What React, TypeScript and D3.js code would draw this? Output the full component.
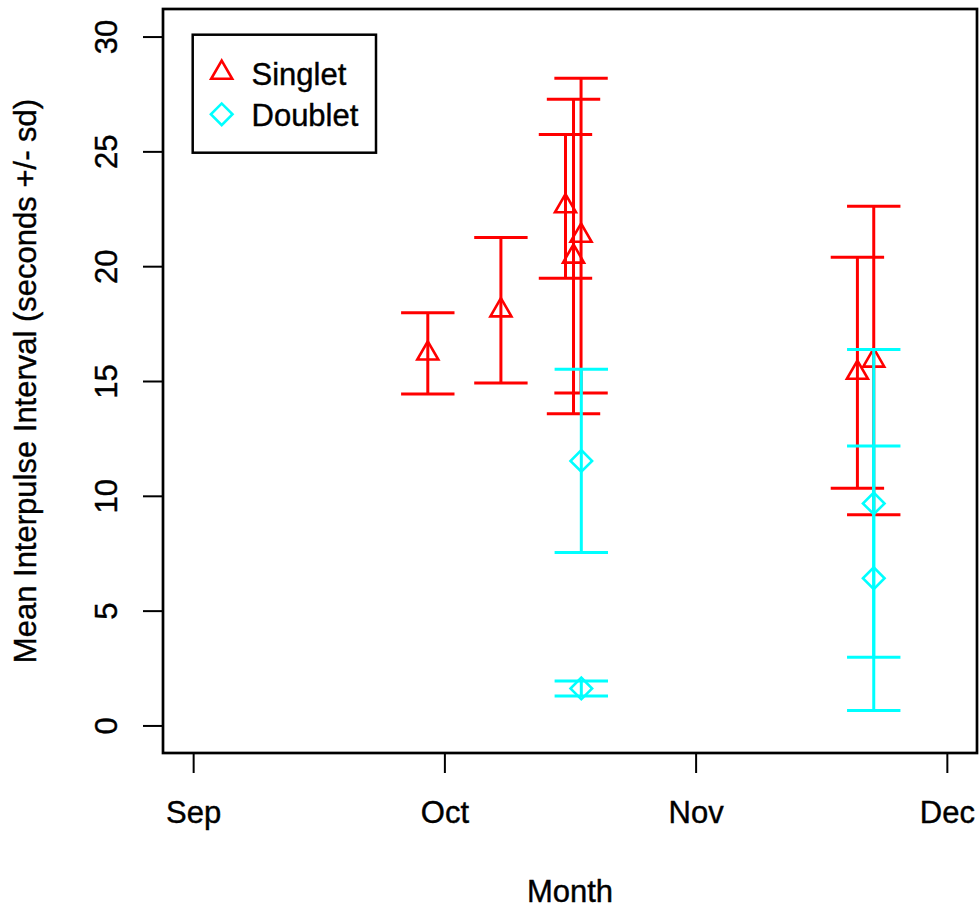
import React, { useEffect, useRef } from "react";
import * as d3 from "d3";

// month as a decimal (9 = 1 Sep, 10 = 1 Oct ...)
const singletMonth = [9.934, 10.225, 10.482, 10.514, 10.544, 11.644, 11.709];
const singletMean = [16.2, 18.08, 22.61, 20.42, 21.33, 15.36, 15.89];
const singletSd = [1.77, 3.17, 3.13, 6.85, 6.85, 5.03, 6.72];

const doubletMonth = [10.545, 10.545, 11.709, 11.709];
const doubletMean = [11.52, 1.61, 9.67, 6.41];
const doubletSd = [3.99, 0.33, 6.7, 5.76];

const monthTicks = [9, 10, 11, 12];
const monthLabels = ["Sep", "Oct", "Nov", "Dec"];
const yTicks = [0, 5, 10, 15, 20, 25, 30];

const FONT = "'Liberation Sans', Arial, Helvetica, sans-serif";

// text look close to R's png Helvetica
function textStyle(sel: any) {
  sel.style("font-family", FONT).style("font-size", "31px")
    .attr("fill", "#000").attr("stroke", "#000").attr("stroke-width", 0.4);
}

export default function App() {
  const ref = useRef<SVGSVGElement>(null);

  useEffect(() => {
    const W = 980, H = 912;
    const margin = { top: 9, right: 3, bottom: 159, left: 163 };
    const width = W - margin.left - margin.right;
    const height = H - margin.top - margin.bottom;

    const svg = d3.select(ref.current);
    svg.selectAll("*").remove();
    const g = svg.append("g").attr("transform", `translate(${margin.left},${margin.top})`);

    const x = d3.scaleLinear().domain([8.88, 12.12]).range([0, width]);
    const y = d3.scaleLinear().domain([-1.2, 31.2]).range([height, 0]);

    // y axis
    const yAxis = g.append("g")
      .call(d3.axisLeft(y).tickValues(yTicks).tickSize(20).tickSizeOuter(0));
    yAxis.select(".domain").remove();
    yAxis.selectAll("line").attr("stroke", "#000").attr("stroke-width", 2);
    yAxis.selectAll("text")
      .attr("x", null).attr("dy", null)
      .attr("transform", "translate(-46,0) rotate(-90)")
      .attr("text-anchor", "middle")
      .call(textStyle);

    // x axis
    const xAxis = g.append("g")
      .attr("transform", `translate(0,${height})`)
      .call(d3.axisBottom(x).tickValues(monthTicks)
        .tickFormat((d, i) => monthLabels[i]).tickSize(20).tickSizeOuter(0));
    xAxis.select(".domain").remove();
    xAxis.selectAll("line").attr("stroke", "#000").attr("stroke-width", 2);
    xAxis.selectAll("text")
      .attr("y", 70).attr("dy", null)
      .call(textStyle);

    // box
    g.append("rect")
      .attr("width", width).attr("height", height)
      .attr("fill", "none").attr("stroke", "#000").attr("stroke-width", 2.7);

    const capHalf = 26.7;
    const triangle = d3.symbol(d3.symbolTriangle, 191);
    const diamond = d3.symbol(d3.symbolSquare, 233);

    function drawSeries(months: number[], means: number[], sds: number[], color: string, shape: string) {
      const data = months.map((m, i) => ({ m, mean: means[i], sd: sds[i] }));
      const s = g.append("g");
      const bars = s.selectAll("g.bar").data(data).join("g").attr("class", "bar");
      bars.append("line")
        .attr("x1", d => x(d.m)).attr("x2", d => x(d.m))
        .attr("y1", d => y(d.mean - d.sd)).attr("y2", d => y(d.mean + d.sd));
      bars.append("line")
        .attr("x1", d => x(d.m) - capHalf).attr("x2", d => x(d.m) + capHalf)
        .attr("y1", d => y(d.mean + d.sd)).attr("y2", d => y(d.mean + d.sd));
      bars.append("line")
        .attr("x1", d => x(d.m) - capHalf).attr("x2", d => x(d.m) + capHalf)
        .attr("y1", d => y(d.mean - d.sd)).attr("y2", d => y(d.mean - d.sd));
      bars.selectAll("line").attr("stroke", color).attr("stroke-width", 3);

      s.selectAll("path.pt").data(data).join("path")
        .attr("class", "pt")
        .attr("d", shape === "tri" ? triangle() : diamond())
        .attr("transform", d => `translate(${x(d.m)},${y(d.mean)})` + (shape === "tri" ? "" : " rotate(45)"))
        .attr("fill", "none").attr("stroke", color).attr("stroke-width", 2.6);
    }

    drawSeries(singletMonth, singletMean, singletSd, "#ff0000", "tri");
    drawSeries(doubletMonth, doubletMean, doubletSd, "#00ffff", "dia");

    // legend
    const lg = svg.append("g");
    lg.append("rect")
      .attr("x", 192.7).attr("y", 34.7).attr("width", 183.3).attr("height", 118)
      .attr("fill", "#fff").attr("stroke", "#000").attr("stroke-width", 2.5);
    lg.append("path").attr("d", triangle())
      .attr("transform", "translate(221.7,72.7)")
      .attr("fill", "none").attr("stroke", "#ff0000").attr("stroke-width", 2.6);
    lg.append("path").attr("d", diamond())
      .attr("transform", "translate(221.7,114.3) rotate(45)")
      .attr("fill", "none").attr("stroke", "#00ffff").attr("stroke-width", 2.6);
    lg.append("text").attr("x", 251.5).attr("y", 85).text("Singlet");
    lg.append("text").attr("x", 251.5).attr("y", 126).text("Doublet");
    lg.selectAll("text").call(textStyle);

    // axis titles
    svg.append("text")
      .attr("x", margin.left + width / 2).attr("y", 902)
      .attr("text-anchor", "middle")
      .text("Month")
      .call(textStyle);
    svg.append("text")
      .attr("transform", `translate(36,${margin.top + height / 2}) rotate(-90)`)
      .attr("text-anchor", "middle")
      .text("Mean Interpulse Interval (seconds +/- sd)")
      .call(textStyle);
  }, []);

  return (
    <div>
      <style>{`body{margin:0;background:#fff}`}</style>
      <svg ref={ref} width={980} height={912} style={{ display: "block" }} />
    </div>
  );
}
